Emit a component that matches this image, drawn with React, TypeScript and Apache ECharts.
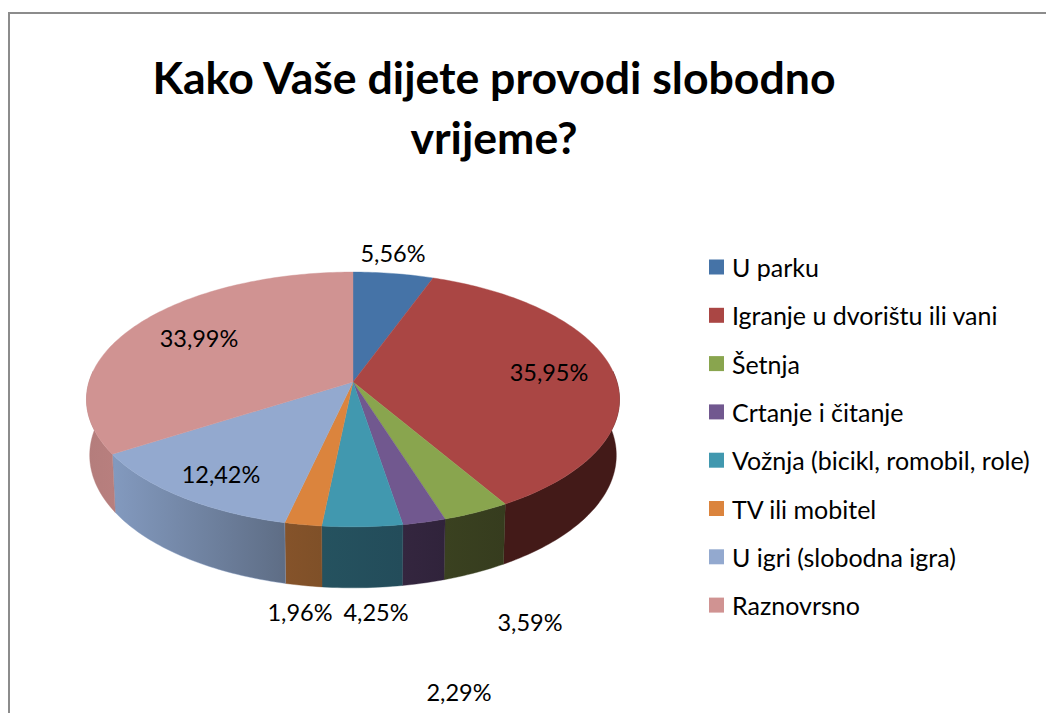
import React, { useEffect, useRef } from "react";
import * as echarts from "echarts";

const categories = ["U parku", "Igranje u dvorištu ili vani", "Šetnja", "Crtanje i čitanje", "Vožnja (bicikl, romobil, role)", "TV ili mobitel", "U igri (slobodna igra)", "Raznovrsno"];
const values = [5.56, 35.95, 3.59, 2.29, 4.25, 1.96, 12.42, 33.99];
const valueLabels = ["5,56%", "35,95%", "3,59%", "2,29%", "4,25%", "1,96%", "12,42%", "33,99%"];
const topColors = ["#4573A7", "#AA4644", "#89A54E", "#71588F", "#4198AF", "#DB843D", "#93A9CF", "#D09392"];
const wallLeft = ["#2A4565", "#431A18", "#3A4120", "#34263F", "#25525F", "#85532A", "#839ABF", "#B47D7C"];
const wallRight = ["#2A4565", "#431A18", "#363C1E", "#30233B", "#234C5A", "#7F5028", "#5E6D85", "#B87F7E"];
const labelPos: number[][] = [[393, 253], [549, 372], [530, 622], [459, 692], [376, 612], [300, 612], [221, 474], [199, 338]];

const FONT = "Lato, Carlito, sans-serif";
const CX = 353, CY = 382, A = 264, B = 125, K = 0.137;
const total = values.reduce((a, b) => a + b, 0);

function top(deg: number): number[] {
  const t = (deg * Math.PI) / 180;
  const u = Math.sin(t), v = -Math.cos(t);
  const d = 1 - K * v;
  return [CX + (A * u) / d, CY + (B * v) / d];
}
function bottom(deg: number): number[] {
  const p = top(deg);
  const v = -Math.cos((deg * Math.PI) / 180);
  return [CX + (p[0] - CX) * 0.988, p[1] + 55 + 6 * v];
}
function arc(a0: number, a1: number, fn: (d: number) => number[]): number[][] {
  const n = Math.max(2, Math.ceil(Math.abs(a1 - a0)));
  const out: number[][] = [];
  for (let i = 0; i <= n; i++) out.push(fn(a0 + ((a1 - a0) * i) / n));
  return out;
}

function renderItem(params: any, api: any) {
  const i = params.dataIndex;
  const val = api.value(0);
  let before = 0;
  for (let j = 0; j < i; j++) before += values[j];
  const a0 = (before / total) * 360;
  const a1 = ((before + val) / total) * 360;
  const children: any[] = [];
  const w0 = Math.max(a0, 85), w1 = Math.min(a1, 275);
  if (w1 > w0) {
    children.push({
      type: "polygon",
      z2: 1,
      shape: { points: [...arc(w0, w1, top), ...arc(w1, w0, bottom)] },
      style: {
        fill: { type: "linear", x: 0, y: 0, x2: 1, y2: 0, colorStops: [{ offset: 0, color: wallLeft[i] }, { offset: 1, color: wallRight[i] }] },
        stroke: wallLeft[i],
        lineWidth: 0.4,
      },
    });
  }
  children.push({
    type: "polygon",
    z2: 5,
    shape: { points: [[CX, CY], ...arc(a0, a1, top)] },
    style: { fill: topColors[i], stroke: topColors[i], lineWidth: 0.4 },
  });
  children.push({
    type: "text",
    z2: 10,
    style: {
      x: labelPos[i][0],
      y: labelPos[i][1],
      text: valueLabels[i],
      fill: "#000",
      font: `23.5px ${FONT}`,
      align: "center",
      verticalAlign: "middle",
    },
  });
  return { type: "group", children };
}

export default function App() {
  const ref = useRef<HTMLDivElement>(null);
  useEffect(() => {
    const chart = echarts.init(ref.current!, null, { renderer: "svg" });
    chart.setOption({
      animation: false,
      backgroundColor: "#fff",
      title: {
        text: "Kako Vaše dijete provodi slobodno\nvrijeme?",
        left: 489,
        top: 41,
        textAlign: "center",
        textStyle: { fontFamily: FONT, fontWeight: "bold", fontSize: 44.6, lineHeight: 60, color: "#000" },
      },
      legend: {
        orient: "vertical",
        left: 704,
        top: 247,
        itemWidth: 15,
        itemHeight: 15,
        itemGap: 18.3,
        icon: "rect",
        data: categories,
        selectedMode: false,
        textStyle: { fontFamily: FONT, fontSize: 25, lineHeight: 30, color: "#000", padding: [0, 0, 0, 3] },
      },
      graphic: [
        { type: "line", shape: { x1: 9, y1: 13, x2: 1046, y2: 13 }, style: { stroke: "#8c8c8c", lineWidth: 2 } },
        { type: "line", shape: { x1: 9, y1: 12, x2: 9, y2: 713 }, style: { stroke: "#8c8c8c", lineWidth: 2 } },
      ],
      series: [
        {
          type: "pie",
          radius: [0, 0],
          center: [CX, CY],
          silent: true,
          label: { show: false },
          labelLine: { show: false },
          data: categories.map((name, i) => ({ name, value: values[i], itemStyle: { color: topColors[i] } })),
        },
        {
          type: "custom",
          coordinateSystem: "none",
          silent: true,
          renderItem,
          data: values.map((v) => [v]),
          encode: { value: 0 },
        },
      ],
    });
    return () => chart.dispose();
  }, []);
  return <div ref={ref} style={{ position: "fixed", left: 0, top: 0, width: 1046, height: 713 }} />;
}
